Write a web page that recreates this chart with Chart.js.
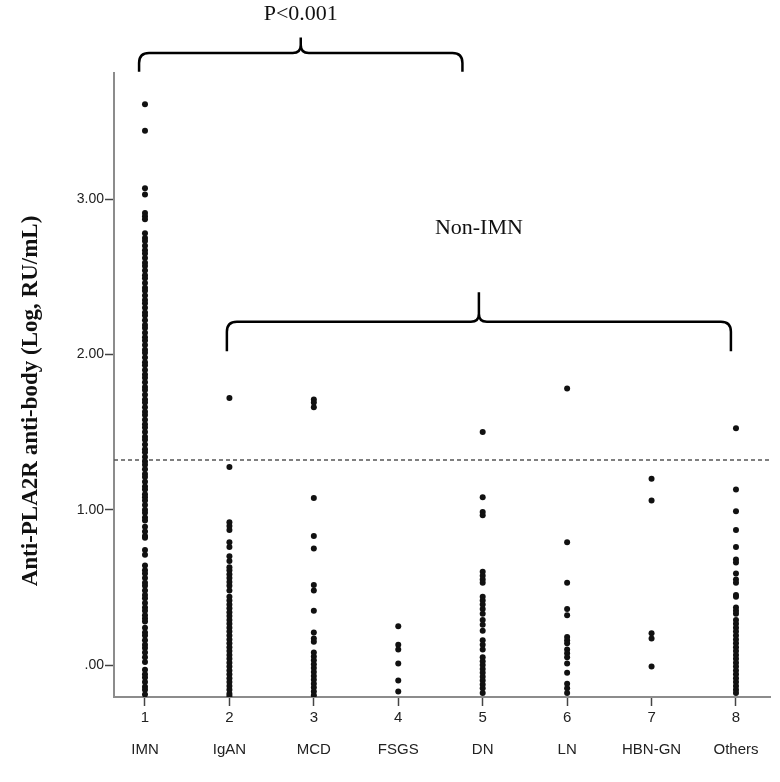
<!DOCTYPE html>
<html>
<head>
<meta charset="utf-8">
<script src="https://cdn.jsdelivr.net/npm/chart.js@4"></script>
<style>
  body { margin: 0; background: #fff; }
  canvas { display: block; }
</style>
</head>
<body>
<canvas id="strip" width="780" height="782"></canvas>
<script>
// groups on the x axis
var groups = ["IMN", "IgAN", "MCD", "FSGS", "DN", "LN", "HBN-GN", "Others"];
var yTicks = [0, 1, 2, 3];
var cutoff = 1.32;

// log anti-PLA2R values, one array per group
var imn = [3.61, 3.44, 3.07, 3.03, 2.91, 2.89, 2.87,
  2.78, 2.75, 2.73, 2.70, 2.67, 2.65, 2.62, 2.59, 2.57, 2.54, 2.51, 2.49, 2.46, 2.43, 2.41,
  2.38, 2.35, 2.33, 2.30, 2.27, 2.25, 2.22, 2.19, 2.17, 2.14, 2.11, 2.09, 2.06, 2.03, 2.01,
  1.98, 1.95, 1.93, 1.90, 1.87, 1.85, 1.82, 1.79, 1.77, 1.74, 1.71, 1.69, 1.66, 1.63, 1.61,
  1.58, 1.55, 1.53, 1.50, 1.47, 1.45, 1.42, 1.39, 1.37, 1.34, 1.31, 1.29, 1.26, 1.23, 1.21,
  1.18, 1.15, 1.13, 1.10, 1.08, 1.06, 1.03, 1.00, 0.98, 0.95, 0.93,
  0.89, 0.86, 0.83, 0.82, 0.74, 0.71,
  0.64, 0.61, 0.59, 0.56, 0.53, 0.51, 0.48, 0.45, 0.43, 0.40, 0.37, 0.35, 0.32, 0.30, 0.28,
  0.24, 0.21, 0.19, 0.16, 0.13, 0.11, 0.08, 0.05, 0.02,
  -0.03, -0.06, -0.08, -0.11, -0.14, -0.16, -0.19];
var igan = [1.72, 1.275, 0.92, 0.895, 0.87, 0.79, 0.76, 0.70, 0.67, 0.63, 0.61, 0.585, 0.56,
  0.535, 0.51, 0.48, 0.44, 0.415, 0.39, 0.365, 0.34, 0.315, 0.29, 0.265, 0.24, 0.215, 0.19,
  0.165, 0.14, 0.115, 0.09, 0.065, 0.04, 0.015, -0.01, -0.035, -0.06, -0.085, -0.11, -0.135,
  -0.16, -0.185, -0.20];
var mcd = [1.71, 1.69, 1.66, 1.075, 0.83, 0.75, 0.515, 0.48, 0.35, 0.21, 0.17, 0.15, 0.08,
  0.055, 0.03, 0.005, -0.02, -0.045, -0.07, -0.095, -0.12, -0.145, -0.17, -0.195];
var fsgs = [0.25, 0.13, 0.10, 0.01, -0.10, -0.17];
var dn = [1.50, 1.08, 0.985, 0.965, 0.60, 0.575, 0.55, 0.53, 0.44, 0.415, 0.39, 0.36, 0.33,
  0.29, 0.26, 0.22, 0.16, 0.13, 0.10, 0.05, 0.025, 0.0, -0.025, -0.05, -0.075, -0.10, -0.125,
  -0.15, -0.18];
var ln = [1.78, 0.79, 0.53, 0.36, 0.32, 0.18, 0.16, 0.14, 0.10, 0.075, 0.05, 0.01, -0.05,
  -0.12, -0.15, -0.18];
var hbngn = [1.20, 1.06, 0.205, 0.17, -0.01];
var others = [1.525, 1.13, 0.99, 0.87, 0.76, 0.68, 0.66, 0.59, 0.55, 0.53, 0.45, 0.44, 0.37,
  0.35, 0.33, 0.29, 0.265, 0.24, 0.215, 0.19, 0.165, 0.14, 0.115, 0.09, 0.065, 0.04, 0.015,
  -0.01, -0.035, -0.06, -0.085, -0.11, -0.135, -0.16, -0.18];

var series = [imn, igan, mcd, fsgs, dn, ln, hbngn, others];

// braces: [x from, x to, y of legs, y of bar, y of tip, y of label, label]
var braces = [
  [0.93, 4.76, 3.82, 3.94, 4.04, 4.19, "P<0.001"],
  [1.97, 7.94, 2.02, 2.21, 2.40, 2.81, "Non-IMN"]
];

var xMin = 0.633, xMax = 8.403;
var yMin = -0.206, yMax = 3.812;

var points = [];
series.forEach(function (vals, i) {
  vals.forEach(function (v) { points.push({ x: i + 1, y: v }); });
});

var serif = "'Liberation Serif', 'Times New Roman', serif";
var sans = "'Liberation Sans', Arial, sans-serif";

function drawBrace(ctx, x1, x2, yLeg, yBar, yTip) {
  var xm = (x1 + x2) / 2;
  var r = Math.min(10, (yLeg - yBar));
  var r2 = 8;
  ctx.beginPath();
  ctx.moveTo(x1, yLeg);
  ctx.lineTo(x1, yBar + r);
  ctx.quadraticCurveTo(x1, yBar, x1 + r, yBar);
  ctx.lineTo(xm - r2, yBar);
  ctx.quadraticCurveTo(xm, yBar, xm, yBar - r2);
  ctx.lineTo(xm, yTip);
  ctx.moveTo(xm, yBar - r2);
  ctx.quadraticCurveTo(xm, yBar, xm + r2, yBar);
  ctx.lineTo(x2 - r, yBar);
  ctx.quadraticCurveTo(x2, yBar, x2, yBar + r);
  ctx.lineTo(x2, yLeg);
  ctx.stroke();
}

var annotations = {
  id: "annotations",
  afterDraw: function (chart) {
    var ctx = chart.ctx;
    var xs = chart.scales.x, ys = chart.scales.y;
    ctx.save();
    ctx.strokeStyle = "#000";
    ctx.lineWidth = 2.5;
    ctx.lineJoin = "round";
    ctx.fillStyle = "#111";
    ctx.textAlign = "center";
    ctx.textBaseline = "middle";
    braces.forEach(function (b) {
      drawBrace(ctx, xs.getPixelForValue(b[0]), xs.getPixelForValue(b[1]),
        ys.getPixelForValue(b[2]), ys.getPixelForValue(b[3]), ys.getPixelForValue(b[4]));
      ctx.font = "22px " + serif;
      ctx.fillText(b[6], xs.getPixelForValue((b[0] + b[1]) / 2), ys.getPixelForValue(b[5]));
    });
    // y axis title
    ctx.translate(31, 401);
    ctx.rotate(-Math.PI / 2);
    ctx.font = "bold 23px " + serif;
    ctx.fillText("Anti-PLA2R anti-body (Log, RU/mL)", 0, 0);
    ctx.restore();
  }
};

new Chart(document.getElementById("strip"), {
  type: "scatter",
  data: {
    datasets: [
      {
        data: points,
        pointRadius: 3,
        pointBackgroundColor: "#111",
        pointBorderWidth: 0,
        order: 1
      },
      {
        type: "line",
        data: [{ x: xMin, y: cutoff }, { x: xMax, y: cutoff }],
        borderColor: "#555",
        borderWidth: 1.5,
        borderDash: [4, 3],
        pointRadius: 0,
        order: 2
      }
    ]
  },
  options: {
    responsive: false,
    animation: false,
    layout: { padding: { top: 73, right: 10, left: 0, bottom: 0 } },
    plugins: { legend: { display: false }, tooltip: { enabled: false } },
    scales: {
      x: {
        type: "linear",
        min: xMin,
        max: xMax,
        afterBuildTicks: function (s) { s.ticks = groups.map(function (g, i) { return { value: i + 1 }; }); },
        afterFit: function (s) { s.height = 85; },
        border: { display: true, color: "#8c8c8c", width: 2 },
        grid: { drawOnChartArea: false, drawTicks: true, tickLength: 9, tickColor: "#444", tickWidth: 1.5 },
        ticks: {
          autoSkip: false,
          maxRotation: 0,
          padding: 4,
          color: "#222",
          font: { family: sans, size: 15, lineHeight: 1.05 },
          callback: function (v) { return [String(v), "", groups[v - 1]]; }
        }
      },
      y: {
        min: yMin,
        max: yMax,
        afterBuildTicks: function (s) { s.ticks = yTicks.map(function (v) { return { value: v }; }); },
        afterFit: function (s) { s.width = 114; },
        border: { display: true, color: "#8c8c8c", width: 2 },
        grid: { drawOnChartArea: false, drawTicks: true, tickLength: 9, tickColor: "#444", tickWidth: 1.5 },
        ticks: {
          padding: 1,
          color: "#222",
          font: { family: sans, size: 14 },
          callback: function (v) { return v === 0 ? ".00" : v.toFixed(2); }
        }
      }
    }
  },
  plugins: [annotations]
});
</script>
</body>
</html>
